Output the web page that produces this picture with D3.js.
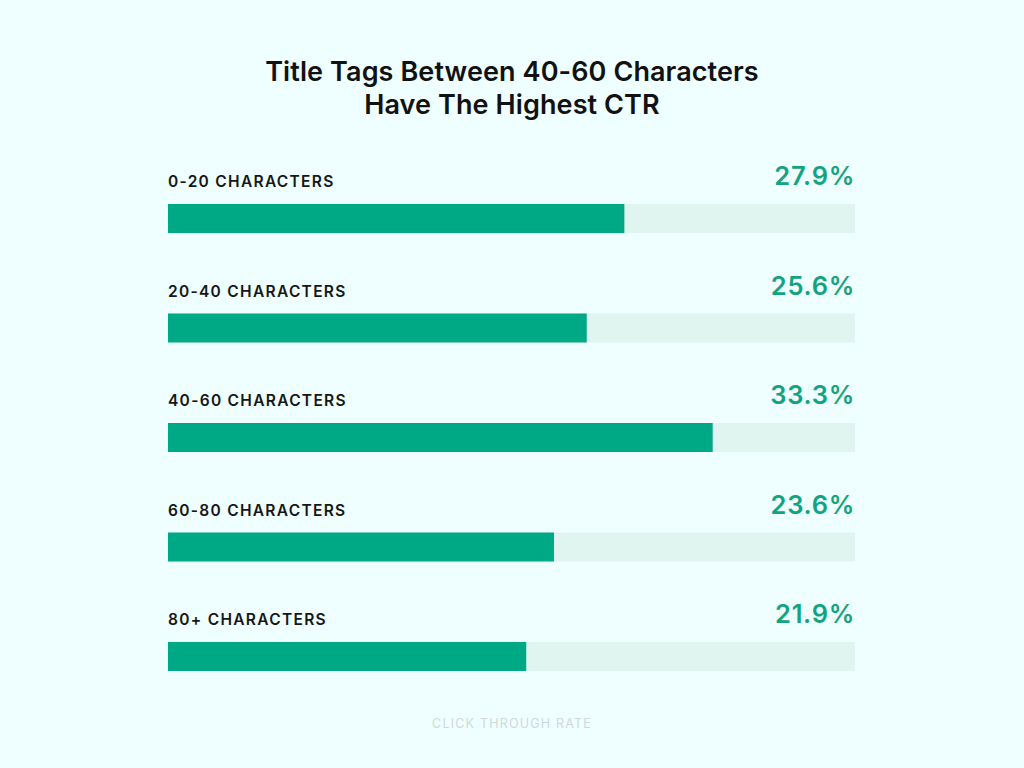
<!DOCTYPE html>
<html><head><meta charset="utf-8">
<script src="https://cdn.jsdelivr.net/npm/d3@7"></script>
<style>
html,body{margin:0;padding:0;background:#effefe;}
svg{display:block;font-family:Inter,"Noto Sans",sans-serif;}
</style></head>
<body>
<svg id="c" width="1024" height="768"></svg>
<script>
const categories = ["0-20 CHARACTERS","20-40 CHARACTERS","40-60 CHARACTERS","60-80 CHARACTERS","80+ CHARACTERS"];
const values = [27.9, 25.6, 33.3, 23.6, 21.9];
const titleLines = ["Title Tags Between 40-60 Characters","Have The Highest CTR"];
const footer = "CLICK THROUGH RATE";

const svg = d3.select("#c");
svg.append("rect").attr("width",1024).attr("height",768).attr("fill","#effefe");

const x = d3.scaleLinear().domain([0, 42]).range([168, 855]);
const y = d3.scalePoint().domain(categories).range([204, 642]);
const barH = 29;

svg.selectAll("text.title").data(titleLines).join("text")
  .attr("class","title")
  .attr("x",512).attr("y",(d,i)=>81+i*33)
  .attr("text-anchor","middle")
  .attr("font-size",27).attr("font-weight",600)
  .attr("letter-spacing",0.1)
  .attr("fill","#111").text(d=>d);

const rows = svg.selectAll("g.row").data(categories).join("g").attr("class","row");

rows.append("rect")
  .attr("x",x(0)).attr("y",d=>y(d))
  .attr("width",x(42)-x(0)).attr("height",barH)
  .attr("fill","#e0f4f0");

rows.append("rect")
  .attr("x",x(0)).attr("y",d=>y(d))
  .attr("width",(d,i)=>x(values[i])-x(0)).attr("height",barH)
  .attr("fill","#00a985");

rows.append("text")
  .attr("x",x(0)).attr("y",d=>y(d)-17)
  .attr("font-size",15.5).attr("font-weight",600)
  .attr("letter-spacing",1.3)
  .attr("fill","#161616").text(d=>d);

rows.append("text")
  .attr("x",x(42)).attr("y",d=>y(d)-19)
  .attr("text-anchor","end")
  .attr("font-size",25.5).attr("font-weight",600)
  .attr("letter-spacing",0.7)
  .attr("fill","#14a37f").text((d,i)=>values[i].toFixed(1)+"%");

svg.append("text")
  .attr("x",512).attr("y",728)
  .attr("text-anchor","middle")
  .attr("font-size",12.5).attr("letter-spacing",1.2)
  .attr("fill","#cfd9d9").text(footer);
</script>
</body></html>
